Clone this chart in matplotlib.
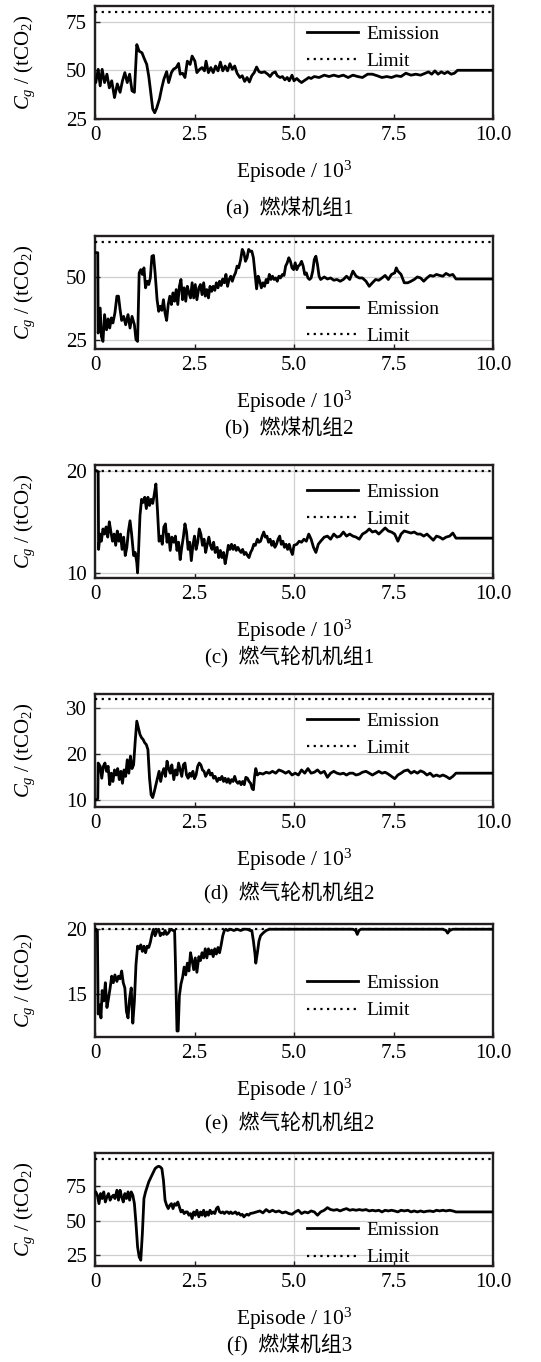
import matplotlib
matplotlib.use('Agg')
import matplotlib.pyplot as plt
from matplotlib.ticker import FixedLocator, FixedFormatter

plt.rcParams['font.family'] = ['Liberation Serif', 'Noto Sans CJK SC']
plt.rcParams['mathtext.fontset'] = 'custom'
plt.rcParams['mathtext.rm'] = 'Liberation Serif'
plt.rcParams['mathtext.it'] = 'Liberation Serif:italic'

# (episode / 10^3, emission / tCO2)
coal_1 = [(0.0, 43.7), (0.02, 43.7), (0.08, 50.5), (0.13, 42.0), (0.18, 50.5), (0.24, 43.7), (0.30, 48.0),
          (0.36, 41.0), (0.42, 44.6), (0.49, 36.0), (0.56, 43.0), (0.63, 38.7), (0.69, 44.6), (0.75, 48.8),
          (0.81, 43.7), (0.87, 48.0), (0.93, 39.5), (0.99, 38.7), (1.05, 63.2), (1.11, 59.8), (1.18, 59.0),
          (1.23, 56.4), (1.30, 53.0), (1.35, 47.0), (1.39, 40.4), (1.45, 30.2), (1.50, 28.2), (1.55, 30.6),
          (1.62, 35.3), (1.68, 41.2), (1.73, 45.4), (1.80, 49.3), (1.85, 43.7), (1.92, 48.8), (1.97, 50.5),
          (2.04, 51.4), (2.10, 53.5), (2.14, 48.0), (2.20, 48.5), (2.26, 46.3), (2.32, 54.7), (2.39, 53.0),
          (2.44, 57.3), (2.51, 54.7), (2.56, 48.8), (2.63, 50.5), (2.69, 51.4), (2.75, 49.7), (2.79, 54.7),
          (2.85, 48.8), (2.91, 51.4), (2.97, 48.8), (3.03, 52.2), (3.09, 49.7), (3.15, 54.2), (3.21, 49.7),
          (3.27, 52.2), (3.33, 49.7), (3.39, 53.4), (3.45, 50.5), (3.51, 52.2), (3.57, 48.5), (3.64, 46.3),
          (3.70, 47.2), (3.76, 44.3), (3.82, 46.3), (3.88, 44.0), (3.94, 47.2), (4.00, 48.8), (4.06, 51.7),
          (4.12, 49.3), (4.18, 48.8), (4.26, 49.2), (4.34, 48.0), (4.40, 46.8), (4.46, 48.5), (4.53, 49.2),
          (4.58, 47.2), (4.65, 46.3), (4.71, 46.8), (4.77, 45.1), (4.83, 46.3), (4.88, 44.6), (4.95, 47.5),
          (5.00, 44.6), (5.07, 45.8), (5.13, 44.6), (5.19, 43.7), (5.25, 44.6), (5.31, 45.4), (5.37, 46.3),
          (5.43, 45.8), (5.51, 46.8), (5.63, 46.3), (5.76, 47.5), (5.88, 46.8), (6.00, 47.5), (6.12, 46.8),
          (6.24, 47.5), (6.36, 46.3), (6.48, 47.5), (6.60, 46.8), (6.72, 46.3), (6.85, 48.0), (6.97, 48.0),
          (7.09, 47.2), (7.21, 46.3), (7.33, 46.8), (7.45, 46.3), (7.57, 47.2), (7.69, 46.8), (7.81, 48.5),
          (7.94, 47.5), (8.06, 48.0), (8.18, 47.5), (8.30, 48.5), (8.38, 49.2), (8.46, 48.0), (8.54, 49.7),
          (8.62, 48.0), (8.70, 49.2), (8.78, 48.3), (8.86, 49.2), (8.95, 48.0), (9.03, 48.5), (9.11, 50.0),
          (10.0, 50.0)]

coal_2 = [(0.0, 59.7), (0.07, 59.7), (0.08, 27.9), (0.13, 37.8), (0.16, 26.6), (0.20, 24.6), (0.24, 35.2),
          (0.29, 29.2), (0.33, 33.5), (0.37, 29.9), (0.41, 33.9), (0.45, 31.9), (0.50, 35.8), (0.55, 42.5),
          (0.59, 42.5), (0.63, 37.2), (0.67, 32.9), (0.72, 34.5), (0.77, 31.2), (0.83, 35.2), (0.88, 29.9),
          (0.93, 34.5), (0.99, 31.2), (1.03, 25.3), (1.07, 24.6), (1.11, 51.7), (1.15, 53.0), (1.19, 51.1),
          (1.23, 53.7), (1.27, 45.8), (1.31, 48.4), (1.35, 47.1), (1.39, 49.7), (1.43, 58.3), (1.47, 58.6),
          (1.51, 51.7), (1.56, 41.1), (1.60, 36.5), (1.64, 38.5), (1.68, 36.9), (1.72, 41.1), (1.76, 35.8),
          (1.80, 32.9), (1.84, 39.2), (1.88, 42.5), (1.92, 39.2), (1.96, 43.8), (2.00, 40.5), (2.04, 45.1),
          (2.08, 39.2), (2.12, 46.4), (2.16, 49.1), (2.20, 41.1), (2.24, 45.8), (2.28, 40.5), (2.32, 46.4),
          (2.36, 43.8), (2.40, 41.8), (2.44, 47.8), (2.48, 41.8), (2.52, 47.1), (2.56, 41.1), (2.61, 45.8),
          (2.65, 47.1), (2.69, 43.1), (2.73, 47.8), (2.77, 42.5), (2.81, 45.1), (2.85, 41.8), (2.89, 46.4),
          (2.93, 44.4), (2.97, 46.4), (3.01, 44.8), (3.05, 47.8), (3.09, 45.8), (3.13, 48.4), (3.17, 46.7),
          (3.21, 49.3), (3.25, 47.8), (3.29, 51.1), (3.33, 46.4), (3.37, 49.1), (3.41, 50.4), (3.45, 48.4),
          (3.49, 50.4), (3.53, 51.7), (3.57, 54.4), (3.61, 53.7), (3.66, 57.0), (3.70, 61.0), (3.74, 59.7),
          (3.78, 56.3), (3.82, 57.7), (3.86, 61.0), (3.90, 60.3), (3.94, 60.3), (3.98, 57.7), (4.02, 51.7),
          (4.06, 45.4), (4.10, 50.4), (4.14, 48.4), (4.18, 45.8), (4.22, 47.8), (4.26, 46.4), (4.30, 49.1),
          (4.34, 47.8), (4.38, 51.1), (4.42, 49.1), (4.46, 50.4), (4.50, 49.1), (4.54, 49.7), (4.58, 48.4),
          (4.62, 50.4), (4.66, 49.7), (4.71, 51.1), (4.75, 50.7), (4.79, 54.4), (4.83, 55.7), (4.87, 57.7),
          (4.91, 56.3), (4.95, 53.7), (4.99, 53.0), (5.03, 55.7), (5.07, 53.0), (5.11, 54.4), (5.15, 55.0),
          (5.19, 56.3), (5.23, 54.4), (5.27, 51.1), (5.31, 51.7), (5.35, 49.7), (5.39, 49.1), (5.43, 49.7),
          (5.47, 52.4), (5.51, 57.0), (5.55, 58.3), (5.59, 55.0), (5.63, 50.4), (5.67, 49.1), (5.76, 50.1),
          (5.84, 49.3), (5.92, 49.7), (6.00, 48.8), (6.08, 49.1), (6.16, 48.4), (6.24, 49.1), (6.32, 50.4),
          (6.40, 49.1), (6.48, 52.4), (6.56, 50.4), (6.64, 49.7), (6.72, 49.7), (6.81, 48.4), (6.89, 46.4),
          (6.97, 47.8), (7.05, 49.1), (7.13, 48.8), (7.21, 49.7), (7.29, 50.7), (7.37, 49.1), (7.45, 51.1),
          (7.53, 51.7), (7.57, 53.7), (7.61, 52.4), (7.69, 51.1), (7.77, 47.8), (7.86, 47.8), (7.94, 48.4),
          (8.02, 49.1), (8.10, 50.1), (8.18, 49.7), (8.26, 48.4), (8.34, 49.7), (8.42, 50.7), (8.50, 50.4),
          (8.58, 51.1), (8.66, 50.7), (8.74, 50.4), (8.82, 51.5), (8.91, 50.7), (8.99, 51.1), (9.07, 49.3),
          (10.0, 49.3)]

gas_1 = [(0.0, 20.0), (0.04, 20.0), (0.08, 19.9), (0.09, 12.3), (0.13, 13.8), (0.16, 13.1), (0.20, 14.3),
         (0.24, 13.8), (0.28, 14.5), (0.32, 13.5), (0.36, 15.0), (0.40, 14.0), (0.44, 13.1), (0.48, 13.8),
         (0.52, 12.7), (0.56, 14.1), (0.60, 13.1), (0.64, 13.8), (0.68, 12.3), (0.72, 13.5), (0.76, 11.7),
         (0.80, 12.5), (0.84, 14.1), (0.88, 15.1), (0.92, 13.8), (0.97, 11.7), (1.01, 12.0), (1.05, 11.0),
         (1.07, 10.0), (1.09, 11.7), (1.13, 15.6), (1.17, 17.2), (1.21, 16.9), (1.25, 17.4), (1.29, 16.3),
         (1.33, 17.4), (1.37, 16.6), (1.41, 17.2), (1.45, 16.8), (1.49, 17.7), (1.53, 18.7), (1.57, 16.1),
         (1.61, 13.1), (1.65, 13.6), (1.69, 12.8), (1.73, 14.5), (1.77, 14.8), (1.81, 13.0), (1.85, 13.8),
         (1.89, 12.2), (1.93, 13.5), (1.98, 13.0), (2.02, 13.6), (2.06, 12.2), (2.10, 13.0), (2.14, 11.3),
         (2.18, 12.5), (2.22, 13.5), (2.26, 14.8), (2.30, 14.0), (2.34, 12.3), (2.38, 13.0), (2.42, 11.2),
         (2.46, 12.7), (2.50, 13.6), (2.54, 12.3), (2.58, 13.0), (2.62, 14.3), (2.66, 13.8), (2.70, 12.7),
         (2.74, 13.3), (2.78, 12.0), (2.82, 12.8), (2.86, 13.5), (2.90, 12.7), (2.94, 12.3), (2.98, 13.0),
         (3.02, 12.0), (3.07, 12.5), (3.11, 11.5), (3.15, 12.2), (3.19, 11.5), (3.23, 12.0), (3.27, 10.9),
         (3.31, 11.7), (3.35, 12.7), (3.39, 12.3), (3.43, 12.8), (3.47, 12.3), (3.51, 12.7), (3.55, 12.2),
         (3.59, 12.5), (3.63, 12.2), (3.67, 12.0), (3.71, 12.3), (3.75, 11.8), (3.79, 12.0), (3.83, 11.7),
         (3.87, 11.5), (3.91, 12.0), (3.95, 12.3), (3.99, 12.8), (4.03, 12.7), (4.08, 13.3), (4.12, 13.0),
         (4.16, 13.1), (4.20, 13.6), (4.24, 14.0), (4.28, 13.5), (4.32, 13.6), (4.36, 13.0), (4.40, 13.3),
         (4.44, 12.7), (4.48, 13.1), (4.52, 12.5), (4.56, 12.8), (4.60, 13.3), (4.64, 13.6), (4.68, 12.8),
         (4.72, 13.1), (4.76, 12.5), (4.80, 12.8), (4.84, 12.3), (4.88, 12.8), (4.92, 12.2), (4.96, 11.8),
         (5.00, 12.7), (5.07, 12.8), (5.13, 13.1), (5.19, 13.0), (5.25, 13.3), (5.31, 13.1), (5.37, 13.8),
         (5.43, 13.3), (5.49, 12.5), (5.55, 12.0), (5.61, 12.8), (5.67, 13.1), (5.76, 13.5), (5.84, 13.6),
         (5.92, 13.3), (6.00, 13.8), (6.08, 13.5), (6.16, 13.6), (6.24, 14.0), (6.32, 13.6), (6.40, 13.8),
         (6.48, 13.6), (6.56, 13.5), (6.64, 13.3), (6.72, 13.8), (6.81, 14.0), (6.89, 14.3), (6.97, 14.0),
         (7.05, 14.1), (7.13, 13.8), (7.21, 14.1), (7.29, 14.4), (7.37, 14.1), (7.45, 14.0), (7.53, 13.8),
         (7.61, 13.1), (7.69, 13.8), (7.77, 14.1), (7.86, 14.0), (7.94, 13.9), (8.02, 14.0), (8.10, 13.8),
         (8.18, 13.8), (8.26, 13.6), (8.34, 13.8), (8.42, 13.5), (8.50, 13.2), (8.58, 13.6), (8.66, 13.5),
         (8.74, 13.3), (8.82, 13.5), (8.91, 13.6), (8.99, 13.9), (9.07, 13.4), (10.0, 13.4)]

gas_2 = [(0.0, 10.1), (0.04, 10.1), (0.07, 10.4), (0.08, 18.1), (0.13, 17.4), (0.17, 14.8), (0.21, 17.4),
         (0.25, 18.1), (0.29, 16.3), (0.33, 17.4), (0.37, 13.4), (0.41, 15.9), (0.45, 14.1), (0.49, 16.6),
         (0.53, 15.5), (0.57, 16.9), (0.61, 14.5), (0.65, 16.3), (0.69, 13.7), (0.73, 16.6), (0.77, 15.2),
         (0.81, 18.8), (0.85, 15.9), (0.89, 19.6), (0.93, 16.9), (0.97, 17.7), (1.01, 22.8), (1.05, 27.2),
         (1.09, 25.8), (1.13, 24.3), (1.17, 23.6), (1.21, 23.2), (1.25, 22.5), (1.29, 22.1), (1.33, 21.0),
         (1.37, 14.8), (1.41, 11.2), (1.45, 10.6), (1.49, 11.9), (1.53, 13.4), (1.57, 14.8), (1.61, 16.3),
         (1.65, 14.1), (1.69, 15.9), (1.73, 16.9), (1.77, 15.2), (1.81, 18.5), (1.85, 16.9), (1.89, 15.9),
         (1.93, 17.7), (1.98, 14.5), (2.02, 16.6), (2.06, 15.5), (2.10, 18.1), (2.14, 16.6), (2.18, 15.2),
         (2.22, 17.7), (2.26, 18.1), (2.30, 15.5), (2.34, 14.8), (2.38, 15.9), (2.42, 15.2), (2.46, 16.3),
         (2.50, 14.7), (2.54, 15.5), (2.58, 17.4), (2.62, 18.1), (2.66, 17.7), (2.70, 16.6), (2.74, 16.3),
         (2.78, 15.2), (2.82, 15.9), (2.86, 16.6), (2.90, 15.5), (2.94, 15.9), (2.98, 14.8), (3.02, 15.2),
         (3.07, 14.1), (3.11, 14.8), (3.15, 14.5), (3.19, 15.2), (3.23, 14.1), (3.27, 14.8), (3.31, 13.9),
         (3.35, 14.7), (3.39, 13.7), (3.43, 14.5), (3.47, 14.1), (3.51, 15.2), (3.55, 14.1), (3.59, 13.7),
         (3.63, 14.1), (3.67, 13.4), (3.71, 14.1), (3.75, 13.4), (3.79, 15.0), (3.83, 14.8), (3.87, 14.1),
         (3.91, 13.7), (3.95, 12.5), (3.98, 12.3), (4.01, 15.2), (4.04, 16.9), (4.08, 15.5), (4.14, 15.9),
         (4.22, 15.7), (4.30, 16.1), (4.38, 15.9), (4.46, 16.3), (4.54, 15.9), (4.62, 16.6), (4.71, 16.3),
         (4.79, 15.9), (4.87, 16.3), (4.95, 15.5), (5.03, 15.9), (5.11, 15.5), (5.19, 16.6), (5.27, 15.9),
         (5.35, 16.9), (5.43, 15.9), (5.51, 16.1), (5.59, 16.6), (5.67, 15.9), (5.76, 16.3), (5.84, 15.0),
         (5.92, 15.9), (6.00, 16.3), (6.08, 15.9), (6.16, 15.7), (6.24, 15.9), (6.32, 15.5), (6.40, 15.9),
         (6.48, 15.9), (6.56, 15.5), (6.64, 15.7), (6.72, 16.1), (6.81, 16.3), (6.89, 15.9), (6.97, 15.5),
         (7.05, 15.9), (7.13, 16.3), (7.21, 15.9), (7.29, 16.1), (7.37, 15.7), (7.45, 15.2), (7.53, 14.7),
         (7.61, 15.5), (7.69, 15.9), (7.77, 16.4), (7.86, 16.6), (7.94, 15.9), (8.02, 16.3), (8.10, 15.9),
         (8.18, 16.4), (8.26, 16.1), (8.34, 15.5), (8.42, 15.9), (8.50, 15.2), (8.58, 15.5), (8.66, 15.2),
         (8.74, 15.5), (8.82, 15.2), (8.91, 14.7), (8.99, 15.2), (9.07, 15.9), (10.0, 15.9)]

gas_2b = [(0.0, 19.9), (0.06, 19.9), (0.08, 13.5), (0.12, 14.2), (0.15, 13.2), (0.18, 15.3), (0.22, 14.5),
          (0.26, 15.9), (0.30, 14.0), (0.34, 14.7), (0.38, 15.5), (0.42, 16.4), (0.46, 15.9), (0.50, 16.5),
          (0.55, 16.0), (0.59, 16.4), (0.63, 16.2), (0.67, 16.8), (0.71, 15.9), (0.75, 15.5), (0.79, 13.7),
          (0.83, 13.2), (0.87, 14.7), (0.91, 15.5), (0.95, 12.8), (0.99, 14.5), (1.03, 17.3), (1.07, 18.7),
          (1.11, 18.5), (1.15, 18.8), (1.19, 18.3), (1.23, 18.7), (1.27, 18.2), (1.31, 18.7), (1.35, 18.6),
          (1.39, 19.0), (1.43, 19.6), (1.47, 20.0), (1.51, 19.5), (1.56, 19.9), (1.60, 20.0), (1.64, 19.5),
          (1.68, 19.7), (1.72, 19.6), (1.76, 19.9), (1.80, 19.6), (1.84, 19.7), (1.88, 19.9), (1.92, 20.0),
          (1.96, 19.9), (2.00, 19.9), (2.02, 17.6), (2.06, 12.2), (2.09, 12.2), (2.12, 14.9), (2.16, 15.8),
          (2.20, 16.3), (2.24, 17.1), (2.28, 16.5), (2.32, 17.4), (2.36, 16.8), (2.40, 18.2), (2.44, 17.6),
          (2.48, 16.9), (2.52, 17.8), (2.56, 16.7), (2.61, 17.9), (2.65, 17.6), (2.69, 18.2), (2.73, 17.8),
          (2.77, 18.5), (2.81, 17.8), (2.85, 18.5), (2.89, 18.1), (2.93, 18.4), (2.97, 17.9), (3.01, 18.5),
          (3.05, 18.1), (3.09, 18.6), (3.13, 18.2), (3.17, 18.8), (3.21, 19.5), (3.25, 19.9), (3.29, 20.0),
          (3.33, 19.9), (3.41, 20.0), (3.49, 19.9), (3.57, 20.0), (3.66, 19.9), (3.74, 20.0), (3.82, 20.0),
          (3.90, 19.9), (3.94, 19.9), (3.98, 19.1), (4.02, 18.1), (4.04, 17.4), (4.08, 18.2), (4.12, 19.1),
          (4.16, 19.5), (4.22, 19.7), (4.30, 19.9), (4.38, 20.0), (4.71, 20.0), (5.51, 20.0), (6.48, 20.0),
          (6.55, 19.9), (6.59, 19.6), (6.63, 19.9), (6.68, 20.0), (8.74, 20.0), (8.82, 19.9), (8.86, 19.7),
          (8.91, 19.9), (8.99, 20.0), (10.0, 20.0)]

coal_3 = [(0.0, 70.9), (0.02, 70.9), (0.06, 68.5), (0.10, 62.4), (0.14, 69.7), (0.18, 66.1), (0.22, 70.9),
          (0.26, 63.6), (0.30, 67.3), (0.34, 69.7), (0.38, 64.9), (0.42, 67.3), (0.46, 68.5), (0.50, 66.1),
          (0.55, 72.1), (0.59, 64.9), (0.63, 72.1), (0.67, 67.3), (0.71, 63.6), (0.75, 69.7), (0.79, 66.1),
          (0.83, 70.9), (0.87, 64.9), (0.91, 70.9), (0.95, 68.5), (0.99, 62.4), (1.03, 47.9), (1.07, 31.0),
          (1.11, 23.8), (1.15, 21.4), (1.19, 40.7), (1.23, 66.1), (1.27, 70.9), (1.31, 74.5), (1.35, 78.1),
          (1.39, 80.6), (1.43, 83.0), (1.47, 85.4), (1.51, 87.8), (1.56, 89.0), (1.60, 89.5), (1.64, 89.0),
          (1.68, 87.8), (1.72, 79.3), (1.76, 64.9), (1.80, 61.2), (1.84, 58.8), (1.88, 61.2), (1.92, 62.4),
          (1.96, 58.8), (2.00, 62.4), (2.04, 61.2), (2.08, 63.6), (2.12, 60.0), (2.16, 56.4), (2.20, 57.6),
          (2.24, 55.2), (2.28, 56.4), (2.32, 56.4), (2.36, 54.0), (2.40, 55.2), (2.44, 51.6), (2.48, 56.4),
          (2.52, 54.0), (2.56, 57.6), (2.61, 52.8), (2.65, 56.4), (2.69, 54.0), (2.73, 57.6), (2.77, 53.3),
          (2.81, 56.4), (2.85, 54.0), (2.89, 57.6), (2.93, 55.2), (2.97, 56.4), (3.01, 55.2), (3.05, 58.8),
          (3.09, 60.0), (3.13, 56.4), (3.17, 55.7), (3.21, 56.4), (3.25, 55.2), (3.29, 56.4), (3.33, 56.4),
          (3.37, 55.2), (3.41, 56.4), (3.45, 55.2), (3.49, 55.7), (3.53, 56.4), (3.57, 54.7), (3.61, 55.7),
          (3.66, 54.0), (3.70, 54.7), (3.74, 52.8), (3.78, 54.0), (3.82, 54.7), (3.86, 54.0), (3.90, 55.2),
          (3.98, 55.7), (4.06, 56.4), (4.14, 57.1), (4.22, 55.7), (4.30, 58.1), (4.38, 56.4), (4.46, 57.6),
          (4.54, 56.4), (4.62, 57.1), (4.71, 55.7), (4.79, 56.4), (4.87, 55.2), (4.95, 54.7), (5.03, 56.4),
          (5.11, 57.6), (5.19, 55.2), (5.27, 56.4), (5.35, 55.7), (5.43, 57.1), (5.51, 56.4), (5.59, 54.0),
          (5.67, 56.4), (5.76, 57.6), (5.84, 59.5), (5.92, 58.1), (6.00, 57.6), (6.08, 58.1), (6.16, 57.1),
          (6.24, 58.1), (6.32, 58.8), (6.40, 57.6), (6.48, 58.1), (6.56, 57.6), (6.64, 58.1), (6.72, 57.6),
          (6.81, 58.1), (6.89, 57.1), (6.97, 57.6), (7.05, 57.1), (7.13, 57.6), (7.21, 56.4), (7.29, 57.6),
          (7.37, 57.1), (7.45, 57.6), (7.53, 57.1), (7.61, 56.4), (7.69, 57.6), (7.77, 57.1), (7.86, 57.6),
          (7.94, 56.4), (8.02, 57.1), (8.10, 56.4), (8.18, 57.1), (8.26, 56.4), (8.34, 56.9), (8.42, 57.1),
          (8.50, 56.6), (8.58, 57.6), (8.66, 57.1), (8.74, 57.6), (8.82, 57.1), (8.91, 57.6), (8.99, 57.1),
          (9.07, 56.4), (10.0, 56.4)]

series = [coal_1, coal_2, gas_1, gas_2, gas_2b, coal_3]
limits = [80, 64, 20, 32, 20, 95]
captions = ['(a)  燃煤机组1', '(b)  燃煤机组2', '(c)  燃气轮机机组1',
            '(d)  燃气轮机机组2', '(e)  燃气轮机机组2', '(f)  燃煤机组3']
y_ticks = [[25, 50, 75], [25, 50], [10, 20], [10, 20, 30], [15, 20], [25, 50, 75]]

# layout (pixel positions measured on the reference)
y_lims = [(25, 83), (21.6, 66.3), (9.5, 20.56), (8.55, 33.1), (11.74, 20.4), (17.2, 99.1)]
ax_bottoms = [119, 349, 578, 807, 1037, 1266]
cap_centres = [208, 428, 657, 893, 1123, 1345]
leg_mid = [0.63, 0.235, 0.64, 0.64, 0.355, 0.195]

W, H = 541, 1362
fig = plt.figure(figsize=(W / 100, H / 100), dpi=100)
fs = 15
spine_c = '#231f20'

for i in range(6):
    ax = fig.add_axes([95 / W, 1 - ax_bottoms[i] / H, 398 / W, 113 / H])
    xs = [p[0] for p in series[i]]
    ys = [p[1] for p in series[i]]
    ax.plot(xs, ys, color='black', lw=2.0, label='Emission', zorder=3)
    ax.axhline(limits[i], color='black', lw=1.6, ls=(0, (1, 2)), label='Limit', zorder=3)

    ax.set_xlim(0, 10)
    ax.set_ylim(*y_lims[i])
    ax.xaxis.set_major_locator(FixedLocator([0, 5, 10]))
    ax.xaxis.set_major_formatter(FixedFormatter(['0', '5.0', '10.0']))
    ax.xaxis.set_minor_locator(FixedLocator([2.5, 7.5]))
    ax.xaxis.set_minor_formatter(FixedFormatter(['2.5', '7.5']))
    ax.set_yticks(y_ticks[i])
    ax.tick_params(which='both', direction='in', length=3.5, width=1, labelsize=fs,
                   color=spine_c)
    ax.tick_params(axis='x', which='both', pad=5)
    ax.tick_params(axis='y', pad=6)
    ax.grid(True, which='major', color='#cfcfcf', lw=0.9, zorder=0)
    for s in ax.spines.values():
        s.set_linewidth(1.7)
        s.set_color(spine_c)

    ax.set_xlabel(r'Episode / 10$^3$', fontsize=15.5)
    ax.xaxis.set_label_coords(0.5, -0.35)
    ax.set_ylabel(r'$C_g$ / (tCO$_2$)', fontsize=fs)
    ax.yaxis.set_label_coords(-0.145, 0.5)

    ax.legend(loc='center left', bbox_to_anchor=(0.533, leg_mid[i]), frameon=False,
              fontsize=14, handlelength=2.6, handletextpad=0.45, labelspacing=0.5,
              borderpad=0, borderaxespad=0)

    fig.text(0.535, 1 - cap_centres[i] / H, captions[i], ha='center', va='center',
             fontsize=fs)

fig.savefig('out.png', dpi=100, facecolor='white')
